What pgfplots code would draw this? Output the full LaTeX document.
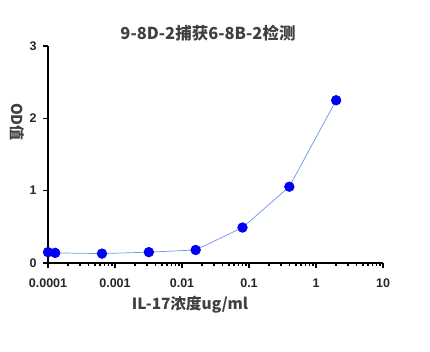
\documentclass[border=0pt]{standalone}
\usepackage{fontspec}
\setmainfont{Liberation Sans}
\newfontfamily\cjk{Noto Sans CJK SC}
\usepackage{pgfplots}
\pgfplotsset{compat=1.18}
\definecolor{ptblue}{RGB}{0,0,245}
\definecolor{lnblue}{RGB}{110,150,235}
\begin{document}
\begin{tikzpicture}
\useasboundingbox (0pt,0pt) rectangle (430pt,351pt);
\begin{axis}[
  at={(48pt,88pt)}, anchor=south west,
  scale only axis, width=335pt, height=217pt,
  xmode=log, xmin=0.0001, xmax=10,
  ymin=0, ymax=3,
  axis lines=left,
  axis line style={line width=1.7pt,-},
  xtick={0.0001,0.001,0.01,0.1,1,10},
  xticklabels={0.0001,0.001,0.01,0.1,1,10},
  ytick={0,1,2,3},
  yticklabels={0,1,2,3},
  tick style={line width=1.5pt,black},
  major tick length=5pt,
  tick align=outside,
  minor tick num=0,
  xtick pos=bottom, ytick pos=left,
  tick label style={font=\fontsize{12.5}{13}\selectfont\bfseries, text=black!85},
  xticklabel style={yshift=-7pt},
  yticklabel style={xshift=-3pt},
  clip=false,
]
\addplot[color=lnblue, line width=0.7pt, mark=*, mark size=4.8pt,
  mark options={fill=ptblue, draw=ptblue}]
  coordinates {
  (0.0001,0.15) (0.000128,0.14) (0.00064,0.13) (0.0032,0.15)
  (0.016,0.18) (0.08,0.49) (0.4,1.055) (2,2.25)};
\end{axis}
\node[font=\cjk\fontsize{16.5}{18}\selectfont\bfseries, text=black!75] at (208pt,318pt) {9-8D-2捕获6-8B-2检测};
\node[font=\cjk\fontsize{15.5}{17}\selectfont\bfseries, text=black!75] at (190pt,46pt) {IL-17浓度ug/ml};
\node[font=\cjk\fontsize{15}{16}\selectfont\bfseries, text=black!75, rotate=-90] at (17.5pt,229pt) {OD值};
\end{tikzpicture}
\end{document}
